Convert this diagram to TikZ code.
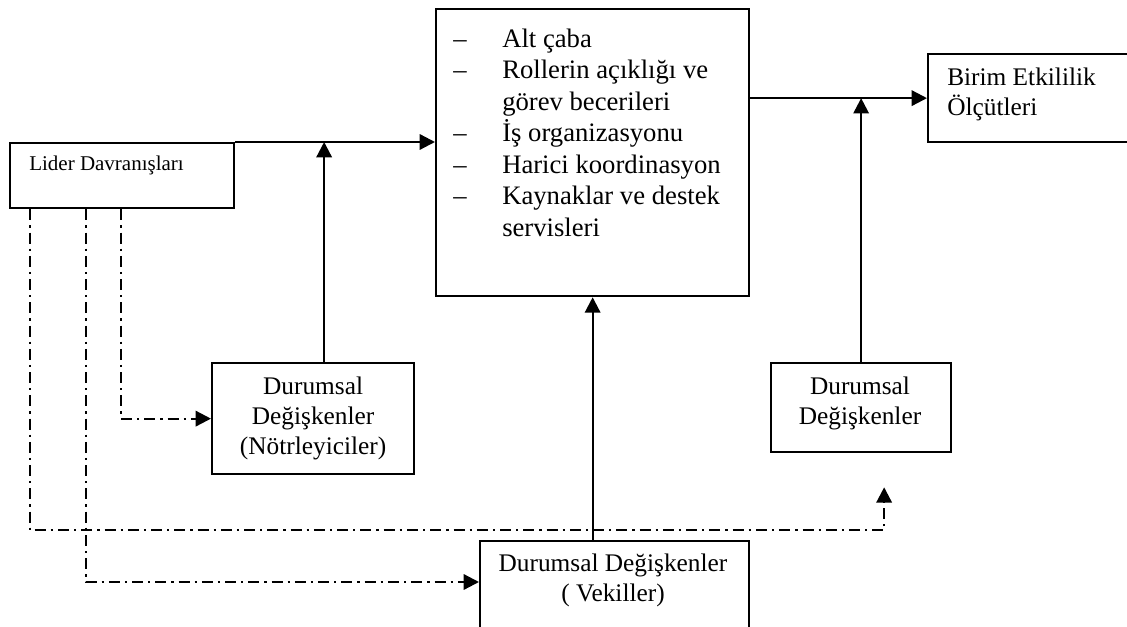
\documentclass[tikz,border=0pt]{standalone}
\usepackage{fontspec}
\setmainfont{Liberation Serif}
\usetikzlibrary{arrows.meta,calc}
\newcommand\pxu{0.75pt}
\begin{document}
\begin{tikzpicture}[x=0.75pt,y=-0.75pt,
  box/.style={draw,line width=1.7pt,inner sep=0pt,anchor=north west},
  lbl/.style={inner sep=0pt,font=\fontsize{19}{22.5}\selectfont,align=center},
  arr/.style={line width=1.7pt,-{Triangle[length=11.5pt,width=11.5pt]}},
  dd/.style={arr,dash pattern=on 8.25pt off 3.75pt on 1.7pt off 3.75pt}]
\useasboundingbox (0,0) rectangle (1127,627);
\clip (0,0) rectangle (1127,627);

% boxes
\node[box,minimum width=224*\pxu,minimum height=65*\pxu] (lider) at (9,142) {};
\node[box,minimum width=313*\pxu,minimum height=287*\pxu] (mid) at (435,8) {};
\node[box,minimum width=230*\pxu,minimum height=88*\pxu] (birim) at (927,53) {};
\node[box,minimum width=202*\pxu,minimum height=111*\pxu] (notr) at (211,362) {};
\node[box,minimum width=180*\pxu,minimum height=89*\pxu] (dr) at (770,362) {};
\node[box,minimum width=269*\pxu,minimum height=100*\pxu] (vekil) at (479,540) {};

% texts
\node[inner sep=0pt,anchor=west,font=\fontsize{15.75}{18}\selectfont] (liderT) at (29,165) {Lider Davranışları};
\node[inner sep=0pt,anchor=north west,font=\fontsize{20}{23.6}\selectfont] (midT) at (453,25)
  {\begin{tabular}{@{}p{36.75pt}@{}l@{}}
   – & Alt çaba\\
   – & Rollerin açıklığı ve\\
     & görev becerileri\\
   – & İş organizasyonu\\
   – & Harici koordinasyon\\
   – & Kaynaklar ve destek\\
     & servisleri
   \end{tabular}};
\node[lbl,anchor=west,align=left] (birimT) at (947,94) {Birim Etkililik\\Ölçütleri};
\node[lbl] (notrT) at (notr.center) {Durumsal\\Değişkenler\\(Nötrleyiciler)};
\node[lbl] (drT) at (860,403) {Durumsal\\Değişkenler};
\node[lbl] (vekilT) at (613,580) {Durumsal Değişkenler\\( Vekiller)};

% solid connectors
\coordinate (nup) at ($(notr.north)+(11,0)$);
\draw[arr] (lider.north east) -- (lider.north east -| mid.west);
\draw[arr] (nup) -- (nup |- lider.north east);
\draw[arr] (mid.south |- vekil.north) -- (mid.south);
\draw[arr] (birim.west -| mid.east) -- (birim.west);
\draw[arr] (dr.north) -- (dr.north |- birim.west);

% dash-dot connectors
\coordinate (l1) at ($(lider.south west)+(21,0)$);
\coordinate (l2) at ($(lider.south west)+(77,0)$);
\coordinate (l3) at ($(lider.south west)+(112,0)$);
\coordinate (vin) at ($(vekil.north west)+(0,42)$);
\coordinate (drin) at ($(dr.south)+(23,34)$);
\draw[dd] (l3) |- (notr.west);
\draw[dd] (l2) |- (vin);
\draw[dd] (l1) |- ($(drin)+(0,43)$) -- (drin);
\end{tikzpicture}
\end{document}
